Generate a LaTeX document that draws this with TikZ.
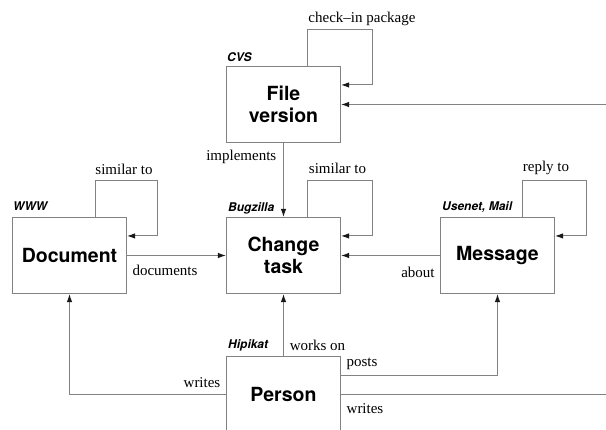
\documentclass[tikz,border=0pt]{standalone}
\usepackage{fontspec}
\setmainfont{Liberation Serif}
\setsansfont{TeX Gyre Heros}
\usetikzlibrary{arrows.meta,calc}

\definecolor{linegray}{HTML}{828282}

\tikzset{
  entity/.style={draw=linegray, line width=1.1pt, fill=white,
    minimum width=114pt, minimum height=76pt, inner sep=0pt,
    align=center, font=\fontsize{19.5}{22}\selectfont\sffamily\bfseries},
  tag/.style={inner sep=0pt, anchor=west,
    font=\fontsize{12}{14}\selectfont\sffamily\bfseries\itshape},
  rel/.style={inner sep=0pt, font=\fontsize{15}{17}\selectfont},
  conn/.style={draw=linegray, line width=1pt},
  arr/.style={conn, -{Latex[length=8pt,width=5.5pt,color=black!90]}},
}

\begin{document}
\begin{tikzpicture}[x=1pt, y=-1pt]
  \useasboundingbox (0,0) rectangle (606,430);
  \clip (0,0) rectangle (606,430);

  % entities
  \node[entity] (fv)  at (283.5,104.5) {File\\version};
  \node[entity] (doc) at (69.5,255.5)  {Document};
  \node[entity] (ct)  at (283.5,255.5) {Change\\task};
  \node[entity] (msg) at (497.5,255.5) {Message};
  \node[entity] (per) at (283.5,394.5) {Person};

  % data sources above each entity
  \node[tag] (tcvs) at (227,57)   {CVS};
  \node[tag] (twww) at (13,206)   {WWW};
  \node[tag] (tbug) at (228,208)  {Bugzilla};
  \node[tag] (tuse) at (442,207)  {Usenet, Mail};
  \node[tag] (thip) at (228,345)  {Hipikat};

  % free ends leaving to the right
  \coordinate (outfv)  at (606,104.5);
  \coordinate (outper) at (606,394.5);

  % self loops
  \draw[arr] ([xshift=24pt]fv.north) |- (372.5,29.5) |- ([yshift=-19pt]fv.north east);
  \draw[arr] ([xshift=26pt]doc.north) |- (157.5,180.5) |- ([yshift=-19pt]doc.north east);
  \draw[arr] ([xshift=24pt]ct.north) |- (372.5,180.5) |- ([yshift=-19pt]ct.north east);
  \draw[arr] ([xshift=25pt]msg.north) |- (586.5,180.5) |- ([yshift=-19pt]msg.north east);

  % relations
  \draw[arr] (outfv) -- (fv.east);
  \draw[arr] (fv.south) -- (ct.north);
  \draw[arr] (doc.east) -- (ct.west);
  \draw[arr] (msg.west) -- (ct.east);
  \draw[arr] (per.north) -- (ct.south);
  \draw[arr] ([yshift=19pt]per.east) -| (msg.south);
  \draw[arr] (per.west) -| (doc.south);
  \draw[conn] (per.east) -- (outper);

  % relation labels
  \node[rel] (lchk)  at (362,19)    {check--in package};
  \node[rel, anchor=east] (limp) at (276.5,157) {implements};
  \node[rel] (lsimd) at (124,169)   {similar to};
  \node[rel] (lsimc) at (337.5,168) {similar to};
  \node[rel] (lrep)  at (546,168)   {reply to};
  \node[rel] (ldoc)  at (165,270)   {documents};
  \node[rel] (labt)  at (418,272)   {about};
  \node[rel] (lwrk)  at (317.5,345) {works on};
  \node[rel] (lpst)  at (362,364)   {posts};
  \node[rel] (lwrl)  at (202,383)   {writes};
  \node[rel] (lwrr)  at (365,409)   {writes};
\end{tikzpicture}
\end{document}
